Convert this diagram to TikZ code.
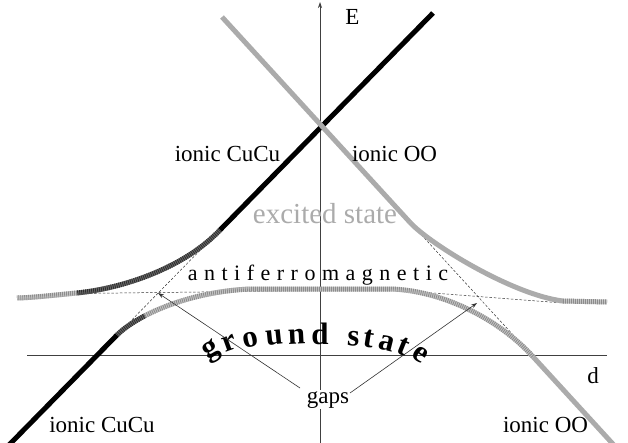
\documentclass[tikz,border=0pt]{standalone}
\usepackage{fontspec}
\setmainfont{Liberation Serif}
\usetikzlibrary{arrows.meta,calc}
\colorlet{oo}{black!33}
\begin{document}
\begin{tikzpicture}[x=1pt,y=-1pt,
  axis/.style={draw=black!75, line width=0.7pt},
  guide/.style={draw=black!80, line width=0.5pt, dash pattern=on 2.5pt off 1.8pt},
  ionic/.style={line width=5pt},
  lhatch/.style={draw=black!22, line width=5pt, postaction={draw=black!45, line width=5pt, dash pattern=on 0.9pt off 1.1pt}},
  dhatch/.style={draw=black!58, line width=5pt, postaction={draw=black!82, line width=5pt, dash pattern=on 0.9pt off 1.1pt}},
  lbl/.style={font=\fontsize{23}{26}\selectfont, inner sep=0pt, anchor=base},
  gs/.style={font=\fontsize{31}{33}\selectfont\bfseries, inner sep=0pt, anchor=base},
  gaparrow/.style={draw=black!80, line width=0.6pt, -{Stealth[length=6pt,width=4pt]}}
]
\useasboundingbox (0,0) rectangle (628,443);
% axes
\coordinate (xa0) at (27,355); \coordinate (xa1) at (607,355);
\coordinate (ya0) at (320,443); \coordinate (ya1) at (320,2);
\draw[axis] (xa0) -- (xa1);
\draw[axis, -{Stealth[length=6pt,width=4pt]}] (ya0) -- (ya1);
% dashed diabatic lines
\coordinate (afL) at (77,293.5); \coordinate (afM) at (390,289.7); \coordinate (afR) at (563,303);
\draw[guide] (afL) -- (afM) -- (afR);
\coordinate (cuA) at (117,335); \coordinate (cuB) at (220,230);
\draw[guide] (cuA) -- (cuB);
\coordinate (ooA) at (410,222.4); \coordinate (ooB) at (533,356.7);
\draw[guide] (ooA) -- (ooB);
% ionic CuCu (black)
\coordinate (cuBot) at (7,447); \coordinate (cuTop) at (433,13);
\draw[ionic, black] (cuBot) -- (cuA);
\draw[ionic, black] (cuB) -- (cuTop);
% ionic OO (gray)
\coordinate (ooTop) at (222,17); \coordinate (ooBot) at (614,445.2);
\draw[ionic, oo] (ooTop) -- (ooA);
\draw[ionic, oo] (ooB) -- (ooBot);
% excited state, left
\coordinate (exL1) at (77,293); \coordinate (exL0) at (17,298);
\draw[dhatch] (cuB) .. controls (185,267) and (125,288) .. (exL1);
\draw[lhatch] (exL1) .. controls (55,295) and (35,297.5) .. (exL0);
% excited state, right
\coordinate (exR1) at (563,301); \coordinate (exR0) at (607,302);
\draw[ionic, oo] (ooA) .. controls (430,244.2) and (513,295) .. (exR1);
\draw[lhatch] (exR1) -- (exR0);
% ground state
\coordinate (gsA) at (145,315.7); \coordinate (gsB) at (250,289); \coordinate (gsC) at (390,289);
\draw[dhatch] (cuA) .. controls (123,329) and (132.6,322.2) .. (gsA);
\draw[lhatch] (gsA) .. controls (170,302.8) and (206.7,291) .. (gsB) -- (gsC) .. controls (440,290) and (498,318) .. (ooB);
% labels
\node[lbl] (E) at (352.5,25) {E};
\node[lbl] (dlab) at (593,383) {d};
\node[lbl] (cuU) at (227.5,162) {ionic CuCu};
\node[lbl] (ooU) at (394.5,162) {ionic OO};
\node[lbl] (cuD) at (102,432) {ionic CuCu};
\node[lbl] (ooD) at (545.5,432) {ionic OO};
\node[lbl, font=\fontsize{29}{32}\selectfont, text=oo] (exc) at (325,224) {excited state};
\node[lbl, font={\fontsize{22}{26}\selectfont\spaceskip=6.5pt\relax}] (af) at (318,280) {a n t i f e r r o m a g n e t i c};
% ground state (arched)
\node[gs, rotate=30] (g1) at (214,356) {g};
\node[gs, rotate=20] (g2) at (232,350) {r};
\node[gs, rotate=12] (g3) at (252,347) {o};
\node[gs, rotate=6] (g4) at (275,345) {u};
\node[gs, rotate=3] (g5) at (297,344.5) {n};
\node[gs, rotate=0] (g6) at (320,344.5) {d};
\node[gs, rotate=-4] (g7) at (353,346) {s};
\node[gs, rotate=-9] (g8) at (368,347.5) {t};
\node[gs, rotate=-14] (g9) at (385,350.5) {a};
\node[gs, rotate=-22] (g10) at (400,354) {t};
\node[gs, rotate=-35] (g11) at (416,360) {e};
% gaps
\node[lbl, fill=white, inner sep=1pt] (gaps) at (328,403) {gaps};
\coordinate (gapL) at (158,293); \coordinate (gapR) at (477,303);
\coordinate (gsL) at (300,388); \coordinate (gsR) at (350,393);
\draw[gaparrow] (gsL) -- (gapL);
\draw[gaparrow] (gsR) -- (gapR);
\end{tikzpicture}
\end{document}
